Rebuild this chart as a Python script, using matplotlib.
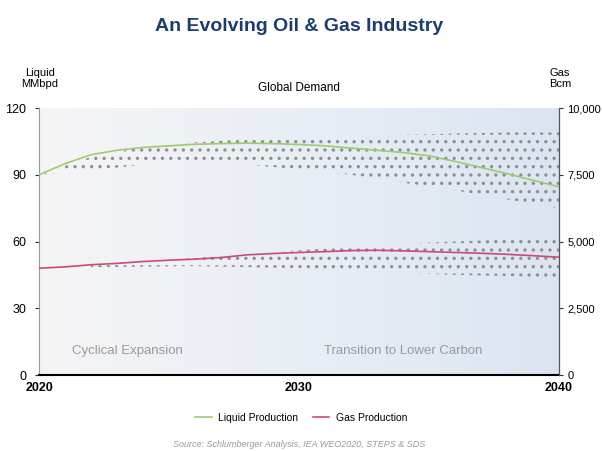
import numpy as np
import matplotlib
matplotlib.use("Agg")
import matplotlib.pyplot as plt
from matplotlib.colors import LinearSegmentedColormap
from matplotlib.ticker import FuncFormatter

plt.rcParams['font.family'] = ['Liberation Sans', 'DejaVu Sans']
plt.rcParams['hatch.linewidth'] = 1.2

# data
years = list(range(2020, 2041))
liquid = [90, 95, 99, 101, 102.3, 103, 103.7, 104, 104.2, 104, 103.6,
          103, 102, 101, 100, 98.5, 96, 93.3, 90.5, 87.5, 84.6]
gas = [4000, 4050, 4130, 4180, 4250, 4300, 4340, 4400, 4500, 4550, 4590,
       4620, 4660, 4670, 4650, 4620, 4590, 4560, 4520, 4470, 4410]

band_years = [2020, 2022, 2024, 2026, 2028, 2030, 2032, 2034, 2036, 2038, 2040]
liquid_hi = [90, 98, 102.5, 104.5, 106, 107, 107.5, 108, 108.5, 109, 109]
liquid_lo = [90, 92, 94.5, 95, 94.5, 92.5, 90, 86.5, 83, 79, 75]
gas_band_years = [2022, 2024, 2026, 2028, 2030, 2032, 2034, 2036, 2038, 2040]
gas_hi = [4125, 4250, 4375, 4540, 4670, 4790, 4920, 5000, 5080, 5170]
gas_lo = [4040, 4060, 4080, 4040, 4000, 3920, 3830, 3750, 3710, 3625]

liquid_ticks = [0, 30, 60, 90, 120]
gas_ticks = [0, 2500, 5000, 7500, 10000]
x_ticks = [2020, 2030, 2040]

fig = plt.figure(figsize=(6.02, 4.51), dpi=100)
ax = fig.add_axes([0.0648, 0.1685, 0.8638, 0.592])
ax2 = ax.twinx()

# gradient background
cmap = LinearSegmentedColormap.from_list('bg', ['#f5f5f5', '#e9eef6', '#dbe5f1'])
grad = np.linspace(0, 1, 256).reshape(1, -1)
ax.imshow(grad, cmap=cmap, aspect='auto', extent=[2020, 2040, 0, 120], zorder=0)

ax.fill_between(band_years, liquid_lo, liquid_hi, facecolor='none',
                edgecolor='#8f8f8f', hatch='..', linewidth=0, zorder=1)
ax.plot(years, liquid, color='#9ccc6c', lw=1.2, zorder=3, label='Liquid Production')

ax2.fill_between(gas_band_years, gas_lo, gas_hi, facecolor='none',
                 edgecolor='#8f8f8f', hatch='..', linewidth=0, zorder=1)
ax2.plot(years, gas, color='#cc4a73', lw=1.2, zorder=3, label='Gas Production')

ax.set_xlim(2020, 2040)
ax.set_ylim(0, 120)
ax2.set_ylim(0, 10000)
ax.set_xticks(x_ticks)
ax.set_yticks(liquid_ticks)
ax2.set_yticks(gas_ticks)
ax2.yaxis.set_major_formatter(FuncFormatter(lambda v, p: f'{int(v):,}'))

for t in ax.get_xticklabels():
    t.set_fontweight('bold')
ax.tick_params(axis='x', length=0, labelsize=9, pad=5)
ax.tick_params(axis='y', length=3, labelsize=9, pad=6, color='#333333')
ax2.tick_params(axis='y', length=3, labelsize=8, pad=3, color='#333333')

for a in (ax, ax2):
    a.spines['top'].set_visible(False)
ax.spines['bottom'].set_linewidth(1.5)
ax.spines['left'].set_color('#999999')
ax2.spines['left'].set_visible(False)
ax2.spines['bottom'].set_visible(False)
ax2.spines['right'].set_color('#555555')

ax.text(2023.4, 10.8, 'Cyclical Expansion', color='#9a9a9a', fontsize=9.5,
        ha='center', va='center', zorder=4)
ax.text(2034.0, 10.8, 'Transition to Lower Carbon', color='#9a9a9a', fontsize=9.5,
        ha='center', va='center', zorder=4)

fig.text(0.497, 0.805, 'Global Demand', ha='center', va='center', fontsize=8.5)
fig.text(0.066, 0.826, 'Liquid\nMMbpd', ha='center', va='center', fontsize=8, linespacing=1.15)
fig.text(0.93, 0.826, 'Gas\nBcm', ha='center', va='center', fontsize=8, linespacing=1.15)

fig.text(0.497, 0.942, 'An Evolving Oil & Gas Industry', ha='center', va='center',
         fontsize=14, fontweight='bold', color='#1a3c6e')

h1, l1 = ax.get_legend_handles_labels()
h2, l2 = ax2.get_legend_handles_labels()
fig.legend(h1 + h2, l1 + l2, loc='center', bbox_to_anchor=(0.5, 0.073), ncol=2,
           frameon=False, fontsize=7.5, handlelength=1.6, handletextpad=0.6,
           columnspacing=1.4)

fig.text(0.497, 0.004, 'Source: Schlumberger Analysis, IEA WEO2020, STEPS & SDS',
         ha='center', va='bottom', fontsize=6.5, style='italic', color='#999999')

fig.savefig('out.png', dpi=100)
